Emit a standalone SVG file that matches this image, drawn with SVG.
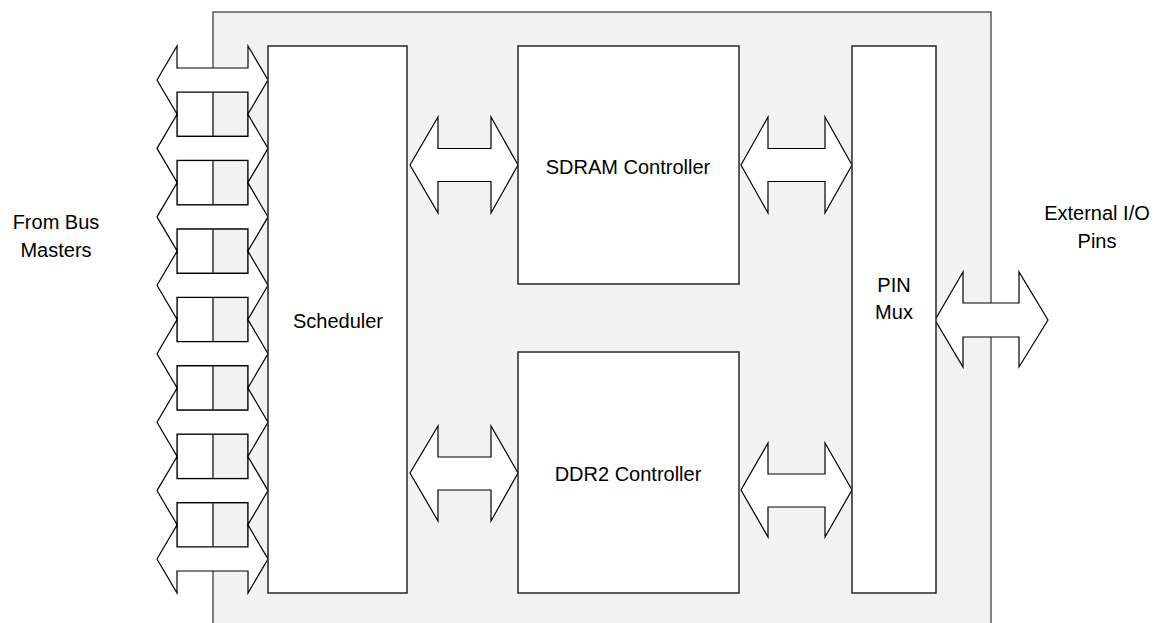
<svg xmlns="http://www.w3.org/2000/svg" xmlns:xlink="http://www.w3.org/1999/xlink" width="1163" height="623" viewBox="0 0 1163 623">
<style>
.bg{fill:#ffffff}
.cont{fill:#f2f2f2;stroke:#595959;stroke-width:1.5}
.blk{fill:#ffffff;stroke:#262626;stroke-width:1.5}
.sb{fill:none;stroke:#595959;stroke-width:1.5}
.arr{fill:#ffffff;stroke:#000000;stroke-width:1.2;stroke-linejoin:miter}
text{font-family:"Liberation Sans",Arial,sans-serif;font-size:20px;fill:#000000;text-anchor:middle}
</style>
<defs>
<path id="la" d="M157,0 L177,-34 L177,-12 L248,-12 L248,-34 L268,0 L248,34 L248,12 L177,12 L177,34 Z"/>
</defs>
<rect class="bg" x="0" y="0" width="1163" height="623"/>
<g id="container">
<rect class="cont" x="213" y="12" width="778" height="620"/>
</g>
<g id="buffers">
<rect class="sb" x="177" y="92" width="71" height="44.4"/>
<rect class="sb" x="177" y="160.4" width="71" height="44.4"/>
<rect class="sb" x="177" y="228.9" width="71" height="44.4"/>
<rect class="sb" x="177" y="297.3" width="71" height="44.4"/>
<rect class="sb" x="177" y="365.7" width="71" height="44.4"/>
<rect class="sb" x="177" y="434.2" width="71" height="44.4"/>
<rect class="sb" x="177" y="502.6" width="71" height="44.4"/>
<line class="sb" x1="213" y1="92" x2="213" y2="547"/>
</g>
<g id="connectors">
<use xlink:href="#la" class="arr" y="80"/>
<use xlink:href="#la" class="arr" y="148.4"/>
<use xlink:href="#la" class="arr" y="216.9"/>
<use xlink:href="#la" class="arr" y="285.3"/>
<use xlink:href="#la" class="arr" y="353.7"/>
<use xlink:href="#la" class="arr" y="422.2"/>
<use xlink:href="#la" class="arr" y="490.6"/>
<use xlink:href="#la" class="arr" y="559"/>
<path class="arr" d="M410,165 L438,117 L438,148.5 L491,148.5 L491,117 L518,165 L491,213 L491,181.5 L438,181.5 L438,213 Z"/>
<path class="arr" d="M410,473 L438,426 L438,457 L491,457 L491,426 L518,473 L491,521 L491,490 L438,490 L438,521 Z"/>
<path class="arr" d="M741,165 L768,117 L768,148.5 L825,148.5 L825,117 L852,165 L825,213 L825,181.5 L768,181.5 L768,213 Z"/>
<path class="arr" d="M741,490 L768,443 L768,474 L825,474 L825,443 L852,490 L825,537 L825,507 L768,507 L768,537 Z"/>
<path class="arr" d="M935,320 L963,272 L963,303 L1019,303 L1019,272 L1048,320 L1019,367 L1019,337 L963,337 L963,367 Z"/>
</g>
<g id="scheduler">
<rect class="blk" x="268" y="46" width="139" height="547"/>
<text x="338" y="328">Scheduler</text>
</g>
<g id="sdram">
<rect class="blk" x="518" y="46" width="221" height="238"/>
<text x="628" y="174">SDRAM Controller</text>
</g>
<g id="ddr2">
<rect class="blk" x="518" y="352" width="221" height="241"/>
<text x="628" y="481">DDR2 Controller</text>
</g>
<g id="pinmux">
<rect class="blk" x="852" y="46" width="84" height="547"/>
<text x="894" y="292">PIN</text>
<text x="894" y="319">Mux</text>
</g>
<g id="labels">
<text x="56" y="229">From Bus</text>
<text x="56" y="257">Masters</text>
<text x="1097" y="220">External I/O</text>
<text x="1097" y="248">Pins</text>
</g>
</svg>
